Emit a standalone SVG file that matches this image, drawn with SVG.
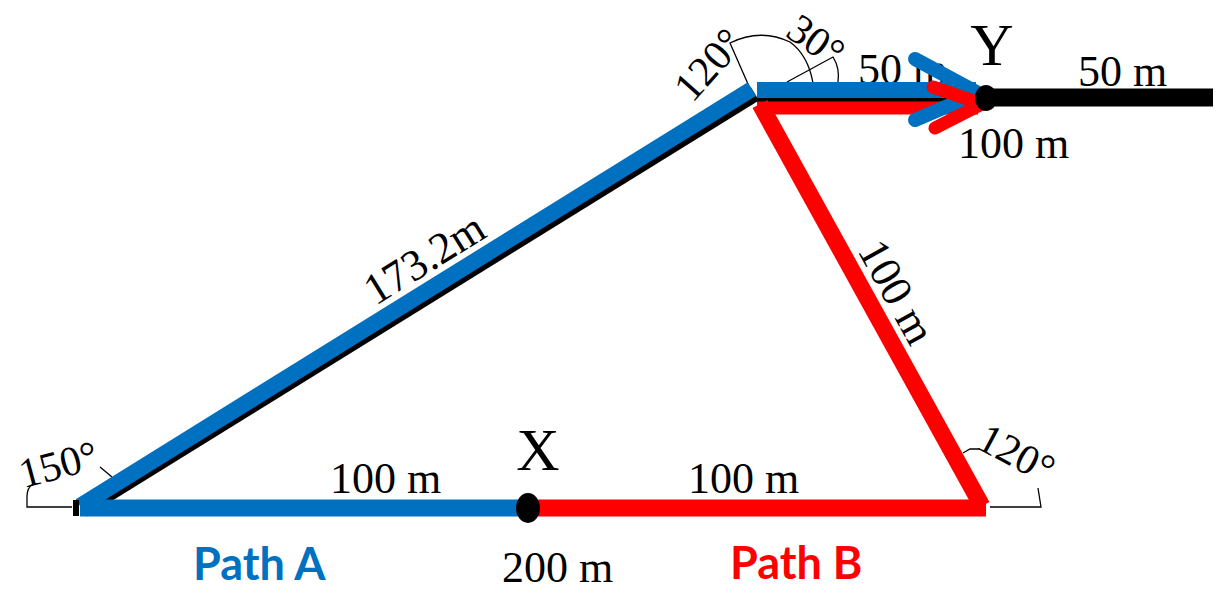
<svg xmlns="http://www.w3.org/2000/svg" width="1231" height="590" viewBox="0 0 1231 590">
<style>
.t{font-family:"Liberation Serif","Times New Roman",serif;font-size:44px;fill:#000}
.a{font-size:42px}
.big{font-size:60px}
.lbl{font-family:Lato,"Liberation Sans",sans-serif;font-weight:bold;font-size:45px}
.mark{fill:none;stroke:#000;stroke-width:1.3}
.blue{stroke:#0070C0;fill:none}
.red{stroke:#FF0000;fill:none}
</style>
<rect width="1231" height="590" fill="#fff"/>
<g id="angle-marks">
<path class="mark" d="M33,484 Q27,488 27,496 L27,507 L72,507"/>
<path class="mark" d="M100,467 L112,477"/>
<path class="mark" d="M748,84 L730,43 Q760,28 790,42 Q808,55 813,83"/>
<path class="mark" d="M787,82 L833,57 Q840,68 838,82"/>
<path class="mark" d="M963,453 L970,449 L980,449"/>
<path class="mark" d="M1038,488 L1041,507 L990,507"/>
</g>
<g id="labels">
<text class="t a" x="62" y="478" text-anchor="middle" transform="rotate(-15 62 478)">150°</text>
<text class="t a" x="719" y="74" text-anchor="middle" transform="rotate(-48 719 74)">120°</text>
<text class="t a" x="808" y="52" text-anchor="middle" transform="rotate(35 808 52)">30°</text>
<text class="t a" x="1010" y="466" text-anchor="middle" transform="rotate(28 1010 466)">120°</text>
<text class="t" x="432" y="271" text-anchor="middle" transform="rotate(-31.8 432 271)">173.2m</text>
<text class="t" x="884" y="299" text-anchor="middle" transform="rotate(61 884 299)">100 m</text>
<text class="t" x="858" y="84">50 m</text>
<text class="t" x="1078" y="86">50 m</text>
<text class="t" x="958" y="158">100 m</text>
<text class="t" x="330" y="493">100 m</text>
<text class="t" x="688" y="493">100 m</text>
<text class="t" x="502" y="582">200 m</text>
<text class="lbl" x="193" y="580" fill="#0070C0">Path A</text>
<text class="lbl" x="730" y="579" fill="#FF0000">Path B</text>
</g>
<g id="connectors">
<line x1="83" y1="510" x2="755" y2="94" stroke="#000" stroke-width="15"/>
<line x1="80" y1="506" x2="752" y2="89" class="blue" stroke-width="16"/>
<line x1="757" y1="97.5" x2="1213" y2="97.5" stroke="#000" stroke-width="18"/>
<line x1="757" y1="90" x2="976" y2="90" class="blue" stroke-width="16"/>
<line x1="757" y1="108" x2="978" y2="108" class="red" stroke-width="13"/>
<line x1="760" y1="104" x2="982" y2="506" class="red" stroke-width="17"/>
<line x1="80" y1="508" x2="524" y2="508" class="blue" stroke-width="17"/>
<line x1="530" y1="508" x2="986" y2="508" class="red" stroke-width="17"/>
<line x1="76" y1="500" x2="76" y2="516" stroke="#000" stroke-width="6"/>
<path class="blue" d="M915,59 L978,93 L915,120" stroke-width="14" stroke-linecap="round" stroke-linejoin="round"/>
<path class="red" d="M933,87 L982,104 L935,128" stroke-width="13" stroke-linecap="round" stroke-linejoin="round"/>
</g>
<g id="node-X">
<ellipse cx="528" cy="508" rx="12" ry="15" fill="#000"/>
<text class="t big" x="538" y="470" text-anchor="middle">X</text>
</g>
<g id="node-Y">
<ellipse cx="986" cy="98" rx="11" ry="13" fill="#000"/>
<text class="t big" x="992" y="65" text-anchor="middle">Y</text>
</g>
</svg>
